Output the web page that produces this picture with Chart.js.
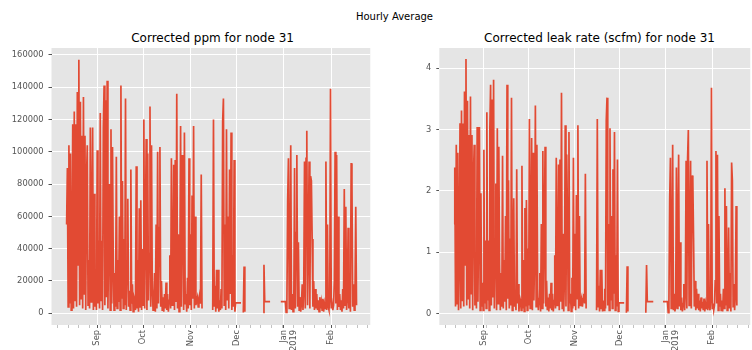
<!DOCTYPE html>
<html>
<head>
<meta charset="utf-8">
<script src="https://cdn.jsdelivr.net/npm/chart.js@4"></script>
<style>
  html, body { margin: 0; padding: 0; background: #fff; }
  body { width: 752px; height: 350px; overflow: hidden; position: relative; font-family: "DejaVu Sans", sans-serif; }
  canvas { position: absolute; top: 0; }
  .title { position: absolute; white-space: nowrap; transform: translateX(-50%); color: #000; }
  #sup { left: 394.5px; top: 10.5px; font-size: 10px; line-height: 12px; }
  #t1 { left: 212.6px; top: 30.5px; font-size: 12px; line-height: 14px; }
  #t2 { left: 599.5px; top: 30.5px; font-size: 12px; line-height: 14px; }
</style>
</head>
<body>
<div id="sup" class="title">Hourly Average</div>
<div id="t1" class="title">Corrected ppm for node 31</div>
<div id="t2" class="title">Corrected leak rate (scfm) for node 31</div>
<canvas id="chart_ppm" width="380" height="350" style="left:0"></canvas>
<canvas id="chart_leak" width="380" height="350" style="left:380px"></canvas>
<script>
// x is days since 1 Aug 2018, one sample every 12 h from 12 Aug 2018 (null = no data)
const startDay = 11;
const stepDays = 0.5;

const ppm = [
  55000, 90000, 4000, 104000, 6000, 99000, 2000, 36000, 117000, 3000,
  125000, 8000, 117000, 4000, 137000, 30000, 157000, 5000, 131000, 9000,
  110000, 3000, 134000, 12000, 110000, 2000, 84000, 104000, 5000, 33000,
  3000, 115000, 7000, 60000, 115000, 2000, 74000, 4000, 19000, 2000,
  101000, 6000, 45000, 3000, 124000, 8000, 45000, 2000, 115000, 141000,
  5000, 132000, 10000, 144000, 3000, 45000, 80000, 2000, 114000, 6000,
  103000, 30000, 2000, 25000, 4000, 97000, 3000, 33000, 7000, 60000,
  2000, 141000, 9000, 82000, 3000, 46000, 5000, 133000, 2000, 30000,
  71000, 4000, 14000, 2000, 89000, 6000, 18000, 1000, 10000, 8000,
  2000, 91000, 3000, 33000, 1000, 65000, 4000, 70000, 2000, 40000,
  5000, 120000, 3000, 51000, 108000, 2000, 99000, 8000, 37000, 128000,
  4000, 104000, 15000, 2000, 9000, 25000, 1000, 55000, 3000, 100000,
  6000, 53000, 103000, 4000, 20000, 2000, 10000, 1000, 12000, 3000,
  19000, 2000, 12000, 1000, 8000, 36000, 3000, 96000, 5000, 20000,
  92000, 2000, 95000, 7000, 136000, 3000, 49000, 1000, 24000, 116000,
  4000, 98000, 60000, 2000, 112000, 6000, 12000, 1000, 22000, 3000,
  96000, 5000, 49000, 2000, 73000, 9000, 116000, 3000, 60000, 5000,
  8000, 10000, 4000, 9000, 12000, 6000, 86000, 3000, null, null,
  null, null, null, null, null, null, null, null, null, null,
  null, 2000, 120000, 4000, 17000, 1000, 27000, 3000, 27000, 1000,
  8000, 2000, 15000, 3000, 119000, 133000, 5000, 55000, 2000, 114000,
  8000, 60000, 3000, 89000, 12000, 112000, 2000, 36000, 4000, 95000,
  1000, 6500, 6500, 6500, 6500, 6500, 6500, 6500, 6500, 6500,
  null, 500, 29000, 1000, null, null, null, null, null, null,
  null, null, null, null, null, null, null, null, null, null,
  null, null, null, null, null, null, null, 500, 30000, 7200,
  7200, 7200, 7200, 7200, 7200, 7200, 7200, 7200, null, null,
  null, null, null, null, null, null, null, null, null, null,
  7200, 7200, 7200, 7200, 7200, 7200, 7200, 500, 8000, 70000,
  96000, 3000, 25000, 104000, 2000, 12000, 1000, 5000, 90000, 3000,
  50000, 98000, 4000, 44000, 2000, 10000, 1000, 6000, 18000, 2000,
  14000, 94000, 3000, 96000, 113000, 5000, 42000, 94000, 3000, 85000,
  82000, 46000, 4000, 20000, 2000, 15000, 3000, 12000, 2000, 8000,
  1000, 10000, 3000, 7000, 2000, 9000, 1000, 6000, 3000, 94000,
  2000, 55000, 4000, 2000, 9000, 139000, 3000, 6000, 2000, 5000,
  20000, 100000, 6000, 98000, 2000, 60000, 4000, 12000, 2000, 8000,
  1000, 15000, 3000, 77000, 5000, 66000, 2000, 9000, 53000, 3000,
  25000, 1000, 93000, 82000, 4000, 18000, 2000, 12000, 66000, 5000
];

const leak = [
  1.46, 2.38, 0.11, 2.75, 0.16, 2.62, 0.05, 0.95, 3.10, 0.08,
  3.31, 0.21, 3.10, 0.11, 3.62, 0.79, 4.15, 0.13, 3.47, 0.24,
  2.91, 0.08, 3.54, 0.32, 2.91, 0.05, 2.22, 2.75, 0.13, 0.87,
  0.08, 3.04, 0.19, 1.59, 3.04, 0.05, 1.96, 0.11, 0.50, 0.05,
  2.67, 0.16, 1.19, 0.08, 3.28, 0.21, 1.19, 0.05, 3.04, 3.73,
  0.13, 3.49, 0.26, 3.81, 0.08, 1.19, 2.12, 0.05, 3.02, 0.16,
  2.72, 0.79, 0.05, 0.66, 0.11, 2.57, 0.08, 0.87, 0.19, 1.59,
  0.05, 3.73, 0.24, 2.17, 0.08, 1.22, 0.13, 3.52, 0.05, 0.79,
  1.88, 0.11, 0.37, 0.05, 2.35, 0.16, 0.48, 0.03, 0.26, 0.21,
  0.05, 2.41, 0.08, 0.87, 0.03, 1.72, 0.11, 1.85, 0.05, 1.06,
  0.13, 3.17, 0.08, 1.35, 2.86, 0.05, 2.62, 0.21, 0.98, 3.39,
  0.11, 2.75, 0.40, 0.05, 0.24, 0.66, 0.03, 1.46, 0.08, 2.65,
  0.16, 1.40, 2.72, 0.11, 0.53, 0.05, 0.26, 0.03, 0.32, 0.08,
  0.50, 0.05, 0.32, 0.03, 0.21, 0.95, 0.08, 2.54, 0.13, 0.53,
  2.43, 0.05, 2.51, 0.19, 3.60, 0.08, 1.30, 0.03, 0.63, 3.07,
  0.11, 2.59, 1.59, 0.05, 2.96, 0.16, 0.32, 0.03, 0.58, 0.08,
  2.54, 0.13, 1.30, 0.05, 1.93, 0.24, 3.07, 0.08, 1.59, 0.13,
  0.21, 0.26, 0.11, 0.24, 0.32, 0.16, 2.28, 0.08, null, null,
  null, null, null, null, null, null, null, null, null, null,
  null, 0.05, 3.17, 0.11, 0.45, 0.03, 0.71, 0.08, 0.71, 0.03,
  0.21, 0.05, 0.40, 0.08, 3.15, 3.52, 0.13, 1.46, 0.05, 3.02,
  0.21, 1.59, 0.08, 2.35, 0.32, 2.96, 0.05, 0.95, 0.11, 2.51,
  0.03, 0.17, 0.17, 0.17, 0.17, 0.17, 0.17, 0.17, 0.17, 0.17,
  null, 0.01, 0.77, 0.03, null, null, null, null, null, null,
  null, null, null, null, null, null, null, null, null, null,
  null, null, null, null, null, null, null, 0.01, 0.79, 0.19,
  0.19, 0.19, 0.19, 0.19, 0.19, 0.19, 0.19, 0.19, null, null,
  null, null, null, null, null, null, null, null, null, null,
  0.19, 0.19, 0.19, 0.19, 0.19, 0.19, 0.19, 0.01, 0.21, 1.85,
  2.54, 0.08, 0.66, 2.75, 0.05, 0.32, 0.03, 0.13, 2.38, 0.08,
  1.32, 2.59, 0.11, 1.16, 0.05, 0.26, 0.03, 0.16, 0.48, 0.05,
  0.37, 2.49, 0.08, 2.54, 2.99, 0.13, 1.11, 2.49, 0.08, 2.25,
  2.17, 1.22, 0.11, 0.53, 0.05, 0.40, 0.08, 0.32, 0.05, 0.21,
  0.03, 0.26, 0.08, 0.19, 0.05, 0.24, 0.03, 0.16, 0.08, 2.49,
  0.05, 1.46, 0.11, 0.05, 0.24, 3.68, 0.08, 0.16, 0.05, 0.13,
  0.53, 2.65, 0.16, 2.59, 0.05, 1.59, 0.11, 0.32, 0.05, 0.21,
  0.03, 0.40, 0.08, 2.04, 0.13, 1.75, 0.05, 0.24, 1.40, 0.08,
  0.66, 0.03, 2.46, 2.17, 0.11, 0.48, 0.05, 0.32, 1.75, 0.13
];

// month starts (major ticks) and Mondays (minor ticks), in days since 1 Aug 2018
const monthDays = [31, 61, 92, 122, 153, 184];
const monthLabels = ['Sep', 'Oct', 'Nov', 'Dec', ['Jan', '2019'], 'Feb'];
const weekDays = [5, 12, 19, 26, 33, 40, 47, 54, 68, 75, 82, 89, 96, 103, 110, 117,
  124, 131, 138, 145, 152, 159, 166, 173, 180, 187, 194, 201, 208];
const ppmTicks = [0, 20000, 40000, 60000, 80000, 100000, 120000, 140000, 160000];
const leakTicks = [0, 1, 2, 3, 4];

const xMin = 1.12, xMax = 209.5;
const xTicks = monthDays.concat(weekDays).sort((a, b) => a - b);
const tickFont = { family: 'DejaVu Sans', size: 8.3 };

const bgPlugin = {
  id: 'plotBg',
  beforeDraw(chart) {
    const a = chart.chartArea, g = chart.ctx;
    g.save();
    g.fillStyle = '#E5E5E5';
    g.fillRect(a.left, a.top, a.right - a.left, a.bottom - a.top);
    g.restore();
  }
};

function isMajor(c) {
  return c.tick && monthDays.includes(c.tick.value);
}

function makeChart(id, values, yTicks, yMin, yMax, yWidth, padRight) {
  const points = values.map((v, i) => ({ x: startDay + i * stepDays, y: v }));
  return new Chart(document.getElementById(id), {
    type: 'line',
    data: {
      datasets: [{
        data: points,
        borderColor: '#E24A33',
        borderWidth: 1.7,
        pointRadius: 0,
        tension: 0,
        spanGaps: false
      }]
    },
    options: {
      responsive: false,
      animation: false,
      layout: { padding: { top: 48, right: padRight, left: 0, bottom: 0 } },
      plugins: { legend: { display: false }, tooltip: { enabled: false } },
      scales: {
        x: {
          type: 'linear',
          min: xMin,
          max: xMax,
          afterBuildTicks: s => { s.ticks = xTicks.map(v => ({ value: v })); },
          afterFit: s => { s.height = 25; },
          border: { display: false },
          grid: {
            color: c => isMajor(c) ? '#ffffff' : 'rgba(0,0,0,0)',
            lineWidth: 1,
            tickLength: 3,
            tickColor: c => isMajor(c) ? '#555555' : '#999999',
            tickWidth: c => isMajor(c) ? 1 : 0.6
          },
          ticks: {
            autoSkip: false,
            minRotation: 90,
            maxRotation: 90,
            padding: 2,
            color: '#555555',
            font: tickFont,
            callback: v => {
              const k = monthDays.indexOf(v);
              return k >= 0 ? monthLabels[k] : '';
            }
          }
        },
        y: {
          min: yMin,
          max: yMax,
          afterBuildTicks: s => { s.ticks = yTicks.map(v => ({ value: v })); },
          afterFit: s => { s.width = yWidth; },
          border: { display: false },
          grid: { color: '#ffffff', lineWidth: 1, tickLength: 3, tickColor: '#555555' },
          ticks: { padding: 5, color: '#555555', font: tickFont, callback: v => String(v) }
        }
      }
    },
    plugins: [bgPlugin]
  });
}

makeChart('chart_ppm', ppm, ppmTicks, -7250, 164300, 51.5, 6.3);
makeChart('chart_leak', leak, leakTicks, -0.19, 4.33, 59.3, 0.5);
</script>
</body>
</html>
